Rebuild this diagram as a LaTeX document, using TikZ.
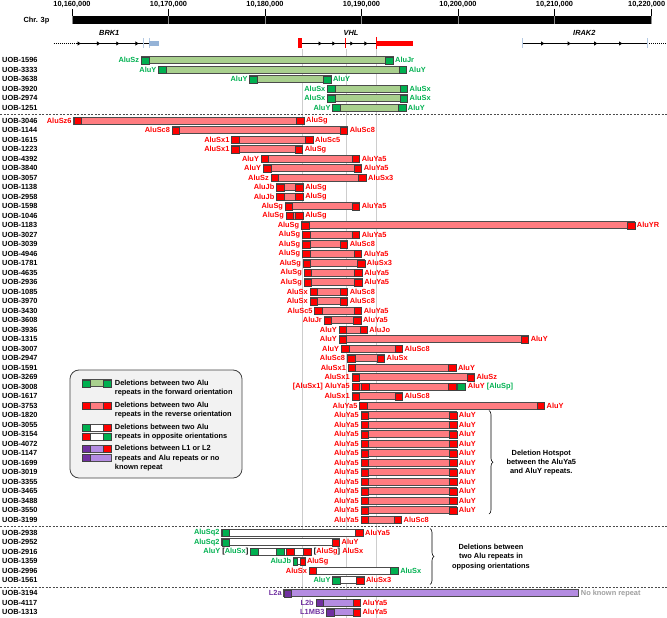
\documentclass[tikz,border=0pt]{standalone}
\usepackage{fontspec}
\setmainfont{Liberation Sans}
\usepackage{xcolor}
\usepackage{tikz}
\usetikzlibrary{arrows.meta,decorations.pathreplacing}

\definecolor{alugreen}{RGB}{0,176,80}
\definecolor{fwdfill}{RGB}{169,208,142}
\definecolor{alured}{RGB}{255,0,0}
\definecolor{revfill}{RGB}{255,124,128}
\definecolor{linepurple}{RGB}{112,48,160}
\definecolor{linefill}{RGB}{180,140,225}
\definecolor{exonblue}{RGB}{149,179,215}
\definecolor{guide}{RGB}{205,205,205}
\definecolor{legfill}{RGB}{242,242,242}

\newcommand{\lbl}{\fontsize{7.4}{9.3}\selectfont\bfseries}
% deletion bar: [end width]{y}{start}{end}{middle}{left repeat}{right repeat}
\newcommand{\delbar}[7][0.78]{%
  \draw[barline, fill=#5] (#3,#2-3.5) rectangle (#4,#2+3.5);
  \draw[sqline, fill=#6] (#3,#2-3.5) rectangle ++(#1,7);
  \draw[sqline, fill=#7] (#4,#2-3.5) rectangle ++(-#1,7);}

\begin{document}
\begin{tikzpicture}[x=9.65pt, y=-1pt,
    barline/.style={draw=black!70, line width=0.7pt},
    sqline/.style={draw=black!75, line width=0.45pt},
    lab/.style={font=\lbl, inner sep=2pt},
    uob/.style={font=\lbl, inner sep=0pt, anchor=west},
    strand/.style={line width=0.9pt, -{Latex[length=3.5pt,width=4.5pt]}},
    sep/.style={black!70, line width=0.6pt, dash pattern=on 2pt off 1.5pt}]
\useasboundingbox (-7.461,0) rectangle (61.658,618);

% Chromosome scale
\fill (0,16.5) rectangle (60,24.5);
\foreach \t/\txt/\lx in {0/{10,160,000}/0,10/{10,170,000}/10,20/{10,180,000}/20,30/{10,190,000}/30,
    40/{10,200,000}/40,50/{10,210,000}/50,60/{10,220,000}/59.55}{
  \draw[line width=0.5pt] (\t,9) -- (\t,16.5);
  \draw[black!45, line width=0.5pt] (\t,16.5) -- (\t,24.5);
  \node[lab, inner sep=0pt] (tick\t) at (\lx,4.5) {\txt};
}
\node[lab, inner sep=0pt] (chr) at (-3.68,20.5) {Chr. 3p};

% Genes
\node[lab, font=\lbl\itshape] (brk1) at (3.86,32.5) {BRK1};
\node[lab, font=\lbl\itshape] (vhl) at (28.92,32.5) {VHL};
\node[lab, font=\lbl\itshape] (irak2) at (53.09,32.5) {IRAK2};

\draw[line width=0.9pt, dash pattern=on 1pt off 1pt] (-1.91,43.5) -- (0.53,43.5);
\foreach \p in {0.75,2.75,4.75,6.74} \draw[strand] (0.53,43.5) -- (\p+0.2,43.5);
\draw[line width=0.9pt] (0.53,43.5) -- (7.98,43.5);
\draw[exonblue!70, line width=0.8pt] (7.41,38.5) -- (7.41,48.5);
\draw[exonblue!70, line width=0.8pt] (7.98,38.5) -- (7.98,48.5);
\fill[exonblue] (7.98,41) rectangle (9.05,46);

\foreach \p in {25.72,27.14,29.0,30.47} \draw[strand] (23.82,43.5) -- (\p+0.2,43.5);
\draw[line width=0.9pt] (23.82,43.5) -- (31.58,43.5);
\fill[alured] (23.46,38.5) rectangle (23.86,48.5);
\draw[alured, line width=0.9pt] (28.38,38.5) -- (28.38,48.5);
\draw[alured, line width=1.2pt] (31.58,37) -- (31.58,50);
\fill[alured] (31.58,41) rectangle (35.35,46);

\foreach \p in {48.78,51.53,54.28,56.86} \draw[strand] (46.66,43.5) -- (\p+0.2,43.5);
\draw[line width=0.9pt] (46.66,43.5) -- (59.61,43.5);
\draw[line width=0.9pt, dash pattern=on 1pt off 1pt] (59.61,43.5) -- (61.6,43.5);
\draw[exonblue!70, line width=0.8pt] (46.66,38.5) -- (46.66,48.5);
\draw[exonblue!70, line width=0.8pt] (59.61,38.5) -- (59.61,48.5);

% VHL exon guides and group separators
\foreach \p in {23.82,28.38,31.58} \draw[guide, line width=0.5pt] (\p,49) -- (\p,618);
\foreach \s in {114.3,526.3,586.8} \draw[sep] (-7.46,\s) -- (61.66,\s);

% Forward orientation
\foreach \id/\a/\b/\la/\lb [count=\i from 0] in {1596/7.18/33.26/AluSz/AluJr, 3333/8.96/34.68/AluY/AluY,
    3638/18.41/26.83/AluY/AluY, 3920/26.48/34.77/AluSx/AluSx, 2974/26.48/34.77/AluSx/AluSx,
    1251/27.01/34.59/AluY/AluY}{
  \pgfmathsetmacro\y{60.3+9.5*\i}
  \node[uob] (u\id) at (-7.254,\y) {UOB-\id};
  \delbar{\y}{\a}{\b}{fwdfill}{alugreen}{alugreen}
  \node[lab, anchor=east, text=alugreen] (l\id) at (\a,\y) {\la};
  \node[lab, anchor=west, text=alugreen] (r\id) at (\b,\y) {\lb};
}

% Reverse orientation
\foreach \id/\a/\b/\la/\lb [count=\i from 0] in {3046/0.18/24.04/AluSz6/AluSg, 1144/10.38/28.56/AluSc8/AluSc8,
    1615/16.54/24.97/AluSx1/AluSc5, 1223/16.54/23.90/AluSx1/AluSg, 4392/19.60/29.80/AluY/AluYa5,
    3840/19.82/30.02/AluY/AluYa5, 3057/20.62/30.47/AluSz/AluSx3, 1138/21.20/23.95/AluJb/AluSg,
    2958/21.20/23.95/AluJb/AluSg, 1598/22.09/29.80/AluSg/AluYa5, 1046/22.18/23.95/AluSg/AluSg,
    1183/23.77/58.32/AluSg/AluYR, 3027/23.86/29.80/AluSg/AluYa5, 3039/23.86/28.56/AluSg/AluSc8,
    4946/23.86/30.02/AluSg/AluYa5, 1781/23.95/30.34/AluSg/AluSx3, 4635/24.04/30.07/AluSg/AluYa5,
    2936/24.04/30.07/AluSg/AluYa5, 1085/24.66/28.56/AluSx/AluSc8, 3970/24.66/28.56/AluSx/AluSc8,
    3430/25.15/30.02/AluSc5/AluYa5, 3608/26.12/29.94/AluJr/AluYa5, 3936/27.67/30.60/AluY/AluJo,
    1315/27.67/47.32/AluY/AluY, 3007/27.90/34.24/AluY/AluSc8, 2947/28.52/32.38/AluSc8/AluSx,
    1591/28.61/39.78/AluSx1/AluY, 3269/29.00/41.69/AluSx1/AluSz,
    3008/29.00/40.80/{[AluSx1] AluYa5}/{AluY \textcolor{alugreen}{[AluSp]}},
    1617/29.00/34.24/AluSx1/AluSc8, 3753/29.80/48.96/AluYa5/AluY,
    1820/29.94/39.87/AluYa5/AluY, 3055/29.94/39.87/AluYa5/AluY, 3154/29.94/39.87/AluYa5/AluY,
    4072/29.94/39.87/AluYa5/AluY, 1147/29.94/39.87/AluYa5/AluY, 1699/29.94/39.87/AluYa5/AluY,
    3019/29.94/39.87/AluYa5/AluY, 3355/29.94/39.87/AluYa5/AluY, 3465/29.94/39.87/AluYa5/AluY,
    3488/29.94/39.87/AluYa5/AluY, 3550/29.94/39.87/AluYa5/AluY, 3199/29.94/34.15/AluYa5/AluSc8}{
  \pgfmathsetmacro\y{120.8+9.5*\i}
  \node[uob] (u\id) at (-7.254,\y) {UOB-\id};
  \delbar{\y}{\a}{\b}{revfill}{alured}{alured}
  \node[lab, anchor=east, text=alured] (l\id) at (\a,\y) {\la};
  \node[lab, anchor=west, text=alured] (r\id) at (\b,\y) {\lb};
}
% extra repeats in UOB-3008
\draw[sqline, fill=alured] (30.02,383.3) rectangle (30.78,390.3);
\draw[sqline, fill=alured] (39.03,383.3) rectangle (39.82,390.3);
\draw[sqline, fill=alugreen] (39.91,383.3) rectangle (40.80,390.3);

% Opposite orientations
\foreach \id/\a/\b/\w/\cl/\cr/\la/\lb [count=\i from 0] in {
    2938/15.52/30.16/0.78/alugreen/alured/AluSq2/AluYa5,
    2952/15.52/27.72/0.78/alugreen/alured/AluSq2/AluY,
    2916/18.49/24.84/0.85/alugreen/alured/{AluY \textcolor{black}{[}AluSx\textcolor{black}{]}}/{\textcolor{black}{[}AluSg\textcolor{black}{]} AluSx},
    1359/22.93/24.13/0.45/alugreen/alured/AluJb/AluSg,
    2996/24.57/33.79/0.78/alured/alugreen/AluSx/AluSx,
    1561/27.01/30.25/0.78/alugreen/alured/AluY/AluSx3}{
  \pgfmathsetmacro\y{532.8+9.5*\i}
  \node[uob] (u\id) at (-7.254,\y) {UOB-\id};
  \delbar[\w]{\y}{\a}{\b}{white}{\cl}{\cr}
  \node[lab, anchor=east, text=\cl] (l\id) at (\a,\y) {\la};
  \node[lab, anchor=west, text=\cr] (r\id) at (\b,\y) {\lb};
}
\draw[sqline, fill=alugreen] (21.15,548.3) rectangle (22.04,555.3);
\draw[sqline, fill=alured] (22.18,548.3) rectangle (23.06,555.3);

% L1 / L2 repeats
\node[uob] (u3194) at (-7.254,593.3) {UOB-3194};
\draw[barline, fill=linefill] (21.95,589.8) rectangle (52.51,596.8);
\draw[sqline, fill=linepurple] (21.95,589.8) rectangle ++(0.78,7);
\node[lab, anchor=east, text=linepurple] (l3194) at (21.95,593.3) {L2a};
\node[lab, anchor=west, text=black!38] (r3194) at (52.51,593.3) {No known repeat};
\node[uob] (u4117) at (-7.254,602.8) {UOB-4117};
\delbar{602.8}{25.28}{29.89}{linefill}{linepurple}{alured}
\node[lab, anchor=east, text=linepurple] (l4117) at (25.28,602.8) {L2b};
\node[lab, anchor=west, text=alured] (r4117) at (29.89,602.8) {AluYa5};
\node[uob] (u1313) at (-7.254,612.3) {UOB-1313};
\delbar{612.3}{26.39}{29.89}{linefill}{linepurple}{alured}
\node[lab, anchor=east, text=linepurple] (l1313) at (26.39,612.3) {L1MB3};
\node[lab, anchor=west, text=alured] (r1313) at (29.89,612.3) {AluYa5};

% Legend
\draw[rounded corners=9pt, fill=legfill, draw=black!75, line width=0.8pt] (-0.21,370) rectangle (17.62,478);
\delbar[0.8]{383.3}{1.11}{4.08}{fwdfill}{alugreen}{alugreen}
\delbar[0.8]{405.7}{1.11}{4.08}{revfill}{alured}{alured}
\delbar[0.8]{427.7}{1.11}{4.08}{white}{alugreen}{alured}
\delbar[0.8]{436.7}{1.11}{4.08}{white}{alured}{alugreen}
\delbar[0.8]{448.7}{1.11}{4.08}{linefill}{linepurple}{alured}
\draw[barline, fill=linefill] (1.11,454) rectangle (4.08,461);
\draw[sqline, fill=linepurple] (1.11,454) rectangle ++(0.8,7);
\node[lab, anchor=west, inner sep=0pt, align=left] (leg1) at (4.43,387.9) {Deletions between two Alu\\repeats in the forward orientation};
\node[lab, anchor=west, inner sep=0pt, align=left] (leg2) at (4.43,410.1) {Deletions between two Alu\\repeats in the reverse orientation};
\node[lab, anchor=west, inner sep=0pt, align=left] (leg3) at (4.43,432.2) {Deletions between two Alu\\repeats in opposite orientations};
\node[lab, anchor=west, inner sep=0pt, align=left] (leg4) at (4.43,458.1) {Deletions between L1 or L2\\repeats and Alu repeats or no\\known repeat};

% Braces
\coordinate (hstop) at (43.21,410.5);
\coordinate (hsbot) at (43.21,514);
\draw[decorate, decoration={brace, amplitude=4pt}, line width=0.6pt] (hstop) -- (hsbot);
\node[lab, align=center, inner sep=0pt] (hotspot) at (48.63,462.5) {Deletion Hotspot\\between the AluYa5\\and AluY repeats.};
\coordinate (optop) at (37.1,528.5);
\coordinate (opbot) at (37.1,584.5);
\draw[decorate, decoration={brace, amplitude=4pt}, line width=0.6pt] (optop) -- (opbot);
\node[lab, align=center, inner sep=0pt] (opposing) at (43.42,556.9) {Deletions between\\two Alu repeats in\\opposing orientations};
\end{tikzpicture}
\end{document}
